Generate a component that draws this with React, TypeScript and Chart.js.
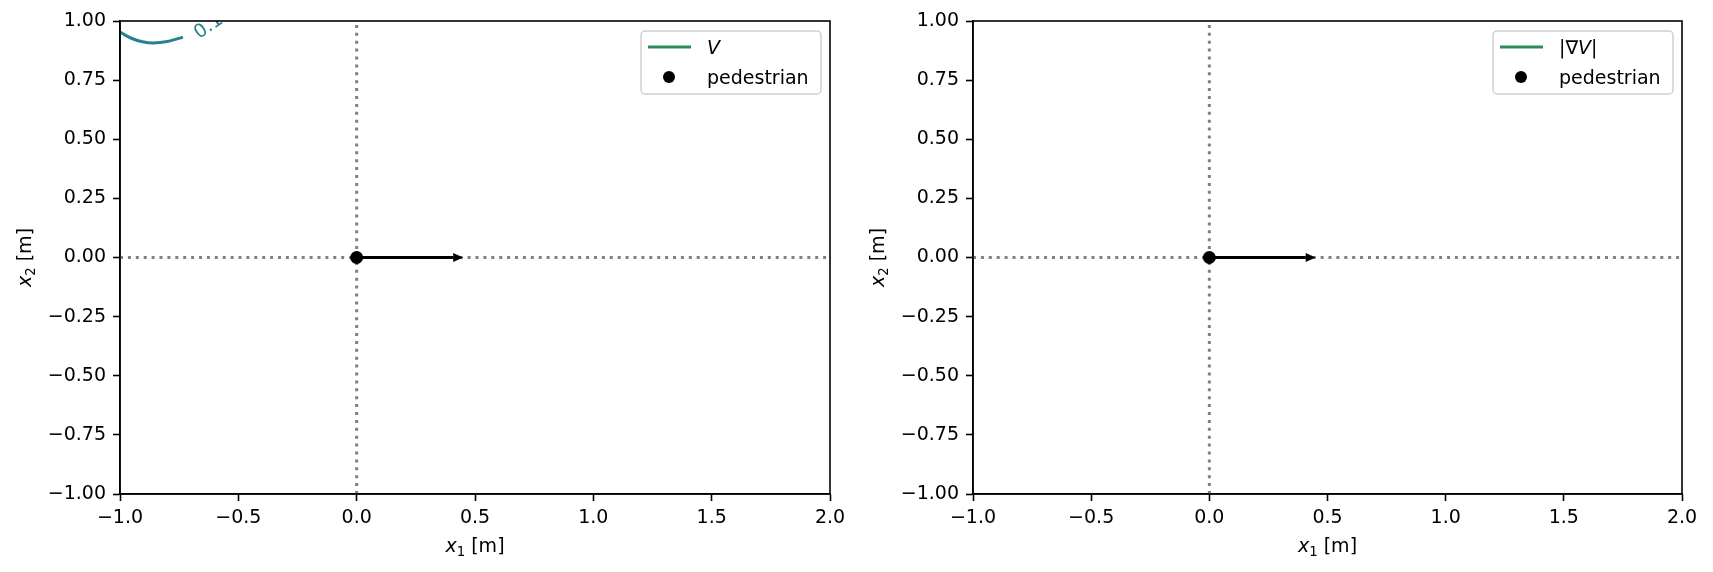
import { useEffect, useRef } from 'react';
import { Chart, registerables } from 'chart.js';

Chart.register(...registerables);

// axis ticks
const xTicks = [-1, -0.5, 0, 0.5, 1, 1.5, 2];
const yTicks = [-1, -0.75, -0.5, -0.25, 0, 0.25, 0.5, 0.75, 1];

// contour of V visible in the top-left corner
const contourX = [-1, -0.95, -0.9, -0.86, -0.8, -0.734];
const contourY = [0.953, 0.926, 0.911, 0.907, 0.913, 0.932];
const contourLabel = '0.1';
const contourLabelAt = [-0.625, 0.976];

// pedestrian + velocity arrow
const pedX = [0];
const pedY = [0];
const arrowX = [0, 0.45];
const arrowY = [0, 0];

// dotted reference lines
const vLineX = [0, 0];
const vLineY = [-1, 1];
const hLineX = [-1, 2];
const hLineY = [0, 0];

const FONT = "'DejaVu Sans'";
const FS = 19;
const CONTOUR_COLOR = '#26828e';

type Part = { t: string; it?: boolean; sub?: boolean };

function partFont(p: Part) {
  const size = p.sub ? FS * 0.7 : FS;
  return `${p.it ? 'italic ' : ''}${size}px ${FONT}`;
}

function drawParts(ctx: CanvasRenderingContext2D, parts: Part[], x: number, y: number, align: 'left' | 'center') {
  ctx.textAlign = 'left';
  ctx.textBaseline = 'alphabetic';
  let total = 0;
  for (const p of parts) {
    ctx.font = partFont(p);
    total += ctx.measureText(p.t).width;
  }
  let cx = align === 'center' ? x - total / 2 : x;
  for (const p of parts) {
    ctx.font = partFont(p);
    ctx.fillText(p.t, cx, p.sub ? y + 4 : y);
    cx += ctx.measureText(p.t).width;
  }
}

const xTitle: Part[] = [{ t: 'x', it: true }, { t: '1', sub: true }, { t: ' [m]' }];
const yTitle: Part[] = [{ t: 'x', it: true }, { t: '2', sub: true }, { t: ' [m]' }];

interface PanelProps {
  legendLabel: Part[];
  showContour: boolean;
  left: number;
  width: number;
  yWidth: number;
  rightPad: number;
}

function Panel({ legendLabel, showContour, left, width, yWidth, rightPad }: PanelProps) {
  const canvasRef = useRef<HTMLCanvasElement>(null);
  const chartRef = useRef<Chart | null>(null);

  useEffect(() => {
    if (!canvasRef.current) return;
    if (chartRef.current) chartRef.current.destroy();
    const ctx = canvasRef.current.getContext('2d');
    if (!ctx) return;

    const extras = {
      id: 'extras',
      afterDatasetsDraw(chart: Chart) {
        const c = chart.ctx;
        const a = chart.chartArea;
        const xs = chart.scales.x;
        const ys = chart.scales.y;
        c.save();

        // contour label, clipped to the axes
        if (showContour) {
          c.save();
          c.beginPath();
          c.rect(a.left, a.top, a.right - a.left, a.bottom - a.top);
          c.clip();
          c.translate(xs.getPixelForValue(contourLabelAt[0]), ys.getPixelForValue(contourLabelAt[1]));
          c.rotate(-34 * Math.PI / 180);
          c.fillStyle = CONTOUR_COLOR;
          c.font = `${FS}px ${FONT}`;
          c.textAlign = 'center';
          c.textBaseline = 'middle';
          c.fillText(contourLabel, 0, 0);
          c.restore();
        }

        // arrow
        const x0 = xs.getPixelForValue(arrowX[0]);
        const y0 = ys.getPixelForValue(arrowY[0]);
        const x1 = xs.getPixelForValue(arrowX[1]);
        const y1 = ys.getPixelForValue(arrowY[1]);
        const ang = Math.atan2(y1 - y0, x1 - x0);
        const hl = 10, hw = 4.5;
        const bx = x1 - hl * Math.cos(ang), by = y1 - hl * Math.sin(ang);
        c.strokeStyle = '#000';
        c.lineWidth = 3;
        c.beginPath();
        c.moveTo(x0, y0);
        c.lineTo(bx, by);
        c.stroke();
        c.fillStyle = '#000';
        c.beginPath();
        c.moveTo(x1, y1);
        c.lineTo(bx - hw * Math.sin(ang), by + hw * Math.cos(ang));
        c.lineTo(bx + hw * Math.sin(ang), by - hw * Math.cos(ang));
        c.closePath();
        c.fill();

        // frame
        c.strokeStyle = '#000';
        c.lineWidth = 1.6;
        c.strokeRect(a.left, a.top, a.right - a.left, a.bottom - a.top);

        // legend
        const lw = 180, lh = 63;
        const lx = a.right - 9 - lw, ly = a.top + 10;
        c.beginPath();
        c.roundRect(lx, ly, lw, lh, 4);
        c.fillStyle = 'rgba(255,255,255,0.8)';
        c.fill();
        c.strokeStyle = '#d0d0d0';
        c.lineWidth = 1.5;
        c.stroke();
        c.strokeStyle = '#2e8b57';
        c.lineWidth = 3;
        c.beginPath();
        c.moveTo(lx + 7, ly + 16);
        c.lineTo(lx + 50, ly + 16);
        c.stroke();
        c.fillStyle = '#000';
        drawParts(c, legendLabel, lx + 66, ly + 23, 'left');
        c.beginPath();
        c.arc(lx + 28, ly + 46, 6, 0, Math.PI * 2);
        c.fill();
        drawParts(c, [{ t: 'pedestrian' }], lx + 66, ly + 53, 'left');

        // axis titles
        drawParts(c, xTitle, (a.left + a.right) / 2, a.bottom + 58, 'center');
        c.save();
        c.translate(a.left - 89, (a.top + a.bottom) / 2);
        c.rotate(-Math.PI / 2);
        drawParts(c, yTitle, 0, 0, 'center');
        c.restore();

        c.restore();
      },
    };

    const dotted = {
      showLine: true,
      borderColor: '#808080',
      borderWidth: 3,
      borderDash: [3, 4.9],
      pointRadius: 0,
      clip: 0,
    };

    // Chart.js paints the first dataset on top, so the pedestrian comes first
    const datasets: any[] = [
      {
        data: pedX.map((x, i) => ({ x, y: pedY[i] })),
        pointRadius: 6.5,
        backgroundColor: '#000',
        borderWidth: 0,
      },
    ];
    if (showContour) {
      datasets.push({
        data: contourX.map((x, i) => ({ x, y: contourY[i] })),
        showLine: true,
        borderColor: CONTOUR_COLOR,
        borderWidth: 3,
        pointRadius: 0,
        cubicInterpolationMode: 'monotone',
        clip: 0,
      });
    }
    datasets.push(
      { ...dotted, data: vLineX.map((x, i) => ({ x, y: vLineY[i] })) },
      { ...dotted, data: hLineX.map((x, i) => ({ x, y: hLineY[i] })) },
    );

    const tickFont = { family: FONT, size: FS };
    const fmt = (d: number) => (v: number | string) => {
      const n = Number(v);
      const s = Math.abs(n).toFixed(d);
      return n < 0 ? '\u2212' + s : s;
    };

    chartRef.current = new Chart(ctx, {
      type: 'scatter',
      data: { datasets },
      options: {
        animation: false,
        responsive: true,
        maintainAspectRatio: false,
        layout: { padding: { left: 0, right: rightPad, top: 21, bottom: 0 } },
        plugins: { legend: { display: false }, tooltip: { enabled: false } },
        scales: {
          x: {
            type: 'linear',
            min: -1,
            max: 2,
            afterBuildTicks: (s: any) => { s.ticks = xTicks.map(v => ({ value: v })); },
            afterFit: (s: any) => { s.height = 78; },
            ticks: { color: '#000', font: tickFont, padding: 6, maxRotation: 0, callback: fmt(1) },
            grid: { drawOnChartArea: false, drawTicks: true, tickLength: 7, tickWidth: 1.6, tickColor: '#000' },
            border: { display: true, color: '#000', width: 1.6 },
          },
          y: {
            type: 'linear',
            min: -1,
            max: 1,
            afterBuildTicks: (s: any) => { s.ticks = yTicks.map(v => ({ value: v })); },
            afterFit: (s: any) => { s.width = yWidth; },
            ticks: { color: '#000', font: tickFont, padding: 7, callback: fmt(2) },
            grid: { drawOnChartArea: false, drawTicks: true, tickLength: 7, tickWidth: 1.6, tickColor: '#000' },
            border: { display: true, color: '#000', width: 1.6 },
          },
        },
      },
      plugins: [extras],
    });

    return () => {
      if (chartRef.current) {
        chartRef.current.destroy();
        chartRef.current = null;
      }
    };
  }, [legendLabel, showContour, yWidth, rightPad]);

  return (
    <div style={{ position: 'absolute', left, top: 0, width, height: 572 }}>
      <canvas ref={canvasRef}></canvas>
    </div>
  );
}

const leftLegend: Part[] = [{ t: 'V', it: true }];
const rightLegend: Part[] = [{ t: '|\u2207' }, { t: 'V', it: true }, { t: '|' }];

export default function App() {
  return (
    <div style={{ position: 'fixed', left: 0, top: 0, width: 1713, height: 572, background: '#fff' }}>
      <Panel legendLabel={leftLegend} showContour={true} left={0} width={856} yWidth={120} rightPad={26} />
      <Panel legendLabel={rightLegend} showContour={false} left={856} width={857} yWidth={117} rightPad={31} />
    </div>
  );
}
